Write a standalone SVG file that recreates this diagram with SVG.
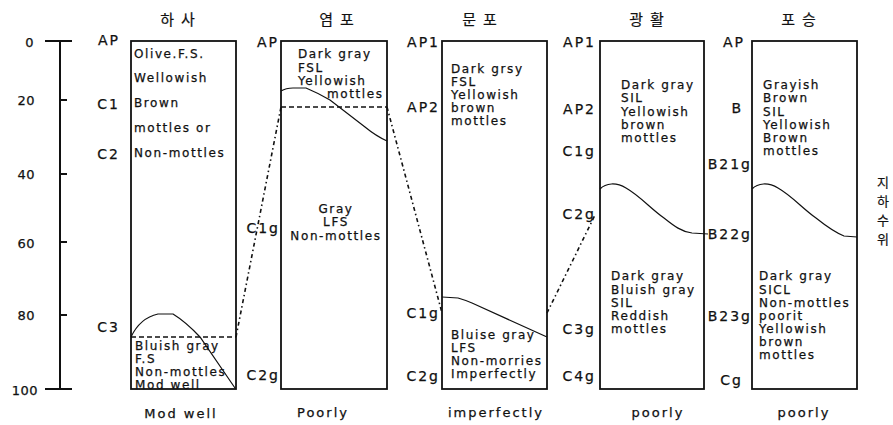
<svg xmlns="http://www.w3.org/2000/svg" width="893" height="425" viewBox="0 0 893 425">
<style>
text{font-family:"DejaVu Sans","Liberation Sans",sans-serif;fill:#111;stroke:#111;stroke-width:0.25}
.ttl{font-family:"Noto Sans CJK KR","Noto Sans",sans-serif;font-size:15px;letter-spacing:7px;text-anchor:middle;stroke-width:0.2}
.kr{font-family:"Noto Sans CJK KR","Noto Sans",sans-serif;font-size:13px;stroke-width:0.2}
.ax{font-size:13px;text-anchor:end;letter-spacing:0.5px}
.hz{font-size:14px;text-anchor:end;letter-spacing:2px}
.d{font-size:12px;letter-spacing:1.6px}
.dc{font-size:12px;letter-spacing:1.6px;text-anchor:middle}
.dr{font-size:13px;letter-spacing:2px;text-anchor:middle}
.box{fill:none;stroke:#111;stroke-width:1.8}
.crv{fill:none;stroke:#111;stroke-width:1.2}
.dsh{fill:none;stroke:#111;stroke-width:1.5;stroke-dasharray:5 3}
.con{fill:none;stroke:#111;stroke-width:1.6;stroke-dasharray:4 3 1.5 3}
.axl{stroke:#111;stroke-width:2;fill:none}
</style>

<g id="axis">
<line class="axl" x1="60" y1="41" x2="60" y2="389"/>
<line class="axl" x1="45" y1="41" x2="72" y2="41"/>
<line class="axl" x1="60" y1="100" x2="67" y2="100"/>
<line class="axl" x1="60" y1="174" x2="67" y2="174"/>
<line class="axl" x1="60" y1="242" x2="67" y2="242"/>
<line class="axl" x1="60" y1="315" x2="67" y2="315"/>
<line class="axl" x1="45" y1="389" x2="72" y2="389"/>
<text class="ax" x="34" y="47">0</text>
<text class="ax" x="35" y="105">20</text>
<text class="ax" x="35" y="179">40</text>
<text class="ax" x="35" y="248">60</text>
<text class="ax" x="35" y="320">80</text>
<text class="ax" x="38" y="395">100</text>
</g>

<g id="profile-hasa">
<text class="ttl" x="181" y="25">하사</text>
<rect class="box" x="131" y="41" width="105" height="348"/>
<path class="crv" d="M131,337 Q140,318 158,314 L173,314 Q186,322 200,337 L235,388"/>
<line class="dsh" x1="131" y1="337" x2="236" y2="337"/>
<text class="hz" x="120" y="45">AP</text>
<text class="hz" x="120" y="109">C1</text>
<text class="hz" x="120" y="159">C2</text>
<text class="hz" x="120" y="332">C3</text>
<text class="d" x="134" y="58">Olive.F.S.</text>
<text class="d" x="134" y="82">Wellowish</text>
<text class="d" x="134" y="107">Brown</text>
<text class="d" x="134" y="132">mottles or</text>
<text class="d" x="134" y="157">Non-mottles</text>
<text class="d" x="135" y="350">Bluish gray</text>
<text class="d" x="135" y="363">F.S</text>
<text class="d" x="135" y="376">Non-mottles</text>
<text class="d" x="135" y="389">Mod well</text>
<text class="dr" x="181" y="418">Mod well</text>
</g>

<g id="profile-yeompo">
<text class="ttl" x="340" y="25">염포</text>
<rect class="box" x="281" y="41" width="106" height="348"/>
<path class="crv" d="M281,91 Q286,88 293,88 L306,88 Q318,93 330,100 L365,127 Q376,136 387,141"/>
<line class="dsh" x1="281" y1="107" x2="387" y2="107"/>
<text class="hz" x="279" y="47">AP</text>
<text class="hz" x="280" y="233">C1g</text>
<text class="hz" x="280" y="380">C2g</text>
<text class="d" x="298" y="58">Dark gray</text>
<text class="d" x="298" y="72">FSL</text>
<text class="d" x="298" y="85">Yellowish</text>
<text class="d" x="327" y="98">mottles</text>
<text class="dc" x="336" y="213">Gray</text>
<text class="dc" x="336" y="226">LFS</text>
<text class="dc" x="336" y="240">Non-mottles</text>
<text class="dr" x="323" y="417">Poorly</text>
</g>

<g id="profile-munpo">
<text class="ttl" x="483" y="25">문포</text>
<rect class="box" x="442" y="41" width="105" height="348"/>
<path class="crv" d="M442,297 L458,298 Q465,300 472,303 L547,337"/>
<text class="hz" x="440" y="47">AP1</text>
<text class="hz" x="440" y="112">AP2</text>
<text class="hz" x="440" y="318">C1g</text>
<text class="hz" x="440" y="381">C2g</text>
<text class="d" x="451" y="73">Dark grsy</text>
<text class="d" x="451" y="86">FSL</text>
<text class="d" x="451" y="99">Yellowish</text>
<text class="d" x="451" y="112">brown</text>
<text class="d" x="451" y="125">mottles</text>
<text class="d" x="451" y="339">Bluise gray</text>
<text class="d" x="451" y="352">LFS</text>
<text class="d" x="451" y="365">Non-morries</text>
<text class="d" x="451" y="378">Imperfectly</text>
<text class="dr" x="496" y="417">imperfectly</text>
</g>

<g id="profile-gwanghwal">
<text class="ttl" x="650" y="25">광활</text>
<rect class="box" x="600" y="41" width="104" height="348"/>
<path class="crv" d="M600,189 C606,183 616,182 626,188 C640,196 650,208 664,218 C674,226 682,232 692,233 L708,234"/>
<text class="hz" x="596" y="47">AP1</text>
<text class="hz" x="596" y="114">AP2</text>
<text class="hz" x="596" y="156">C1g</text>
<text class="hz" x="596" y="219">C2g</text>
<text class="hz" x="596" y="334">C3g</text>
<text class="hz" x="596" y="381">C4g</text>
<text class="d" x="621" y="89">Dark gray</text>
<text class="d" x="621" y="102">SIL</text>
<text class="d" x="621" y="116">Yellowish</text>
<text class="d" x="621" y="129">brown</text>
<text class="d" x="621" y="142">mottles</text>
<text class="d" x="611" y="280">Dark gray</text>
<text class="d" x="611" y="294">Bluish gray</text>
<text class="d" x="611" y="307">SIL</text>
<text class="d" x="611" y="320">Reddish</text>
<text class="d" x="611" y="333">mottles</text>
<text class="dr" x="658" y="417">poorly</text>
</g>

<g id="profile-poseung">
<text class="ttl" x="802" y="25">포승</text>
<rect class="box" x="752" y="41" width="105" height="348"/>
<path class="crv" d="M752,189 C758,183 768,182 778,188 C792,196 802,208 816,218 C826,226 834,232 844,236 L857,237"/>
<text class="hz" x="745" y="47">AP</text>
<text class="hz" x="743" y="113">B</text>
<text class="hz" x="752" y="169">B21g</text>
<text class="hz" x="752" y="239">B22g</text>
<text class="hz" x="752" y="321">B23g</text>
<text class="hz" x="743" y="385">Cg</text>
<text class="d" x="763" y="89">Grayish</text>
<text class="d" x="763" y="102">Brown</text>
<text class="d" x="763" y="116">SIL</text>
<text class="d" x="763" y="129">Yellowish</text>
<text class="d" x="763" y="142">Brown</text>
<text class="d" x="763" y="155">mottles</text>
<text class="d" x="759" y="280">Dark gray</text>
<text class="d" x="759" y="294">SICL</text>
<text class="d" x="759" y="307">Non-mottles</text>
<text class="d" x="759" y="320">poorit</text>
<text class="d" x="759" y="333">Yellowish</text>
<text class="d" x="759" y="346">brown</text>
<text class="d" x="759" y="359">mottles</text>
<text class="dr" x="804" y="417">poorly</text>
</g>

<g id="groundwater-label">
<text class="kr" x="877" y="187">지</text>
<text class="kr" x="877" y="206">하</text>
<text class="kr" x="877" y="225">수</text>
<text class="kr" x="877" y="244">위</text>
</g>

<g id="connectors">
<line class="con" x1="236" y1="337" x2="281" y2="107"/>
<line class="con" x1="387" y1="107" x2="442" y2="313"/>
<line class="con" x1="547" y1="313" x2="595" y2="215"/>
</g>
</svg>
